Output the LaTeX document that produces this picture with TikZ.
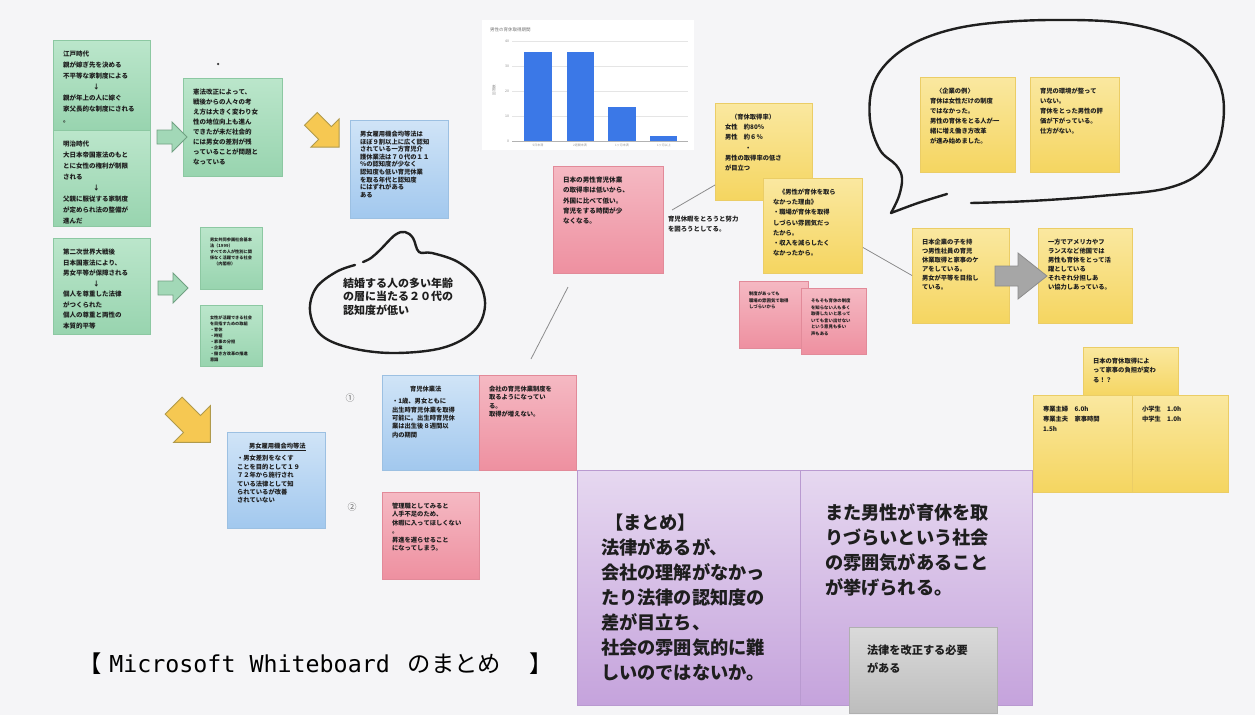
\documentclass[tikz,border=0pt]{standalone}
\usepackage{fontspec}
\setmainfont{Noto Sans CJK JP}
\newfontfamily\monofont{DejaVu Sans Mono}
\XeTeXlinebreaklocale "ja"
\XeTeXlinebreakskip=0pt plus 1pt
\usetikzlibrary{calc}
\definecolor{bg}{HTML}{F5F5F7}
\definecolor{ink}{HTML}{1E1E1E}
\definecolor{gT}{HTML}{BBE6CB}\definecolor{gB}{HTML}{98D4AF}\definecolor{gD}{HTML}{8CC8A2}
\definecolor{bT}{HTML}{D0E4F7}\definecolor{bB}{HTML}{A2C8EE}\definecolor{bD}{HTML}{9CC0E2}
\definecolor{pT}{HTML}{F5B9C3}\definecolor{pB}{HTML}{EE90A0}\definecolor{pD}{HTML}{E28A99}
\definecolor{yT}{HTML}{FAE8A0}\definecolor{yB}{HTML}{F5D560}\definecolor{yD}{HTML}{EBCD66}
\definecolor{uT}{HTML}{E6D8F0}\definecolor{uB}{HTML}{C5A3DC}\definecolor{uD}{HTML}{B99AD0}
\definecolor{rT}{HTML}{DADADA}\definecolor{rB}{HTML}{BDBDBD}\definecolor{rD}{HTML}{B0B0B0}
\definecolor{barblue}{HTML}{3B78E7}
\newcommand\fs[2]{\fontsize{#1}{#2}\selectfont}
% style, name, x, y, w, h, font, text
\newcommand\sticky[8]{%
  \node[#1, minimum width=#5pt, minimum height=#6pt] (#2) at (#3,#4) {};
  \node[txt, text width=\dimexpr#5pt-14pt\relax, font=\bfseries#7] (#2t) at ([shift={(10,11)}]#2.north west) {#8};}
% style, x, y, angle, shaft length, shaft half, head length, head half
\newcommand\blockarrow[8]{%
  \draw[#1, shift={(#2,#3)}, rotate=#4] (-#5,-#6) -- (0,-#6) -- (0,-#8) -- (#7,0) -- (0,#8) -- (0,#6) -- (-#5,#6) -- cycle;}
\begin{document}
\begin{tikzpicture}[x=1pt, y=-1pt,
  every node/.style={inner sep=0pt, outer sep=0pt},
  note/.style={anchor=north west, line width=0.4pt},
  gnote/.style={note, top color=gT, bottom color=gB, draw=gD},
  bnote/.style={note, top color=bT, bottom color=bB, draw=bD},
  pnote/.style={note, top color=pT, bottom color=pB, draw=pD},
  ynote/.style={note, top color=yT, bottom color=yB, draw=yD},
  unote/.style={note, top color=uT, bottom color=uB, draw=uD},
  rnote/.style={note, top color=rT, bottom color=rB, draw=rD},
  txt/.style={anchor=north west, align=left, text=ink},
  bubble/.style={draw=black!88, line width=2.4pt, line cap=round, line join=round},
  conn/.style={draw=black!45, line width=0.8pt},
  garrow/.style={fill=gB!90!white, draw=gD!80!black, line width=0.8pt},
  yarrow/.style={fill=yB!85!orange, draw=yD!75!black, line width=0.8pt},
  rarrow/.style={fill=black!35, draw=black!45, line width=0.8pt}
]
\useasboundingbox (0,0) rectangle (1255,715);
\fill[bg] (0,0) rectangle (1255,715);

% ---------- left column (green) ----------
\sticky{gnote}{g1}{53}{40}{97}{90}{\fs{6.5}{11}}{江戸時代\\親が嫁ぎ先を決める\\不平等な家制度による\\\hspace*{30pt}↓\\親が年上の人に嫁ぐ\\家父長的な制度にされる\\。}
\sticky{gnote}{g2}{53}{130}{97}{96}{\fs{6.5}{11}}{明治時代\\大日本帝国憲法のもと\\とに女性の権利が制限\\される\\\hspace*{30pt}↓\\父親に服従する家制度\\が定められ法の整備が\\進んだ}
\sticky{gnote}{g3}{53}{238}{97}{96}{\fs{6.5}{10.5}}{第二次世界大戦後\\日本国憲法により、\\男女平等が保障される\\\hspace*{30pt}↓\\個人を尊重した法律\\がつくられた\\個人の尊重と両性の\\本質的平等}
\sticky{gnote}{g4}{183}{78}{99}{98}{\fs{6.5}{10}}{憲法改正によって、\\戦後からの人々の考\\え方は大きく変わり女\\性の地位向上も進ん\\できたが未だ社会的\\には男女の差別が残\\っていることが問題と\\なっている}
\sticky{gnote}{s1}{200}{227}{62}{62}{\fs{4.2}{6}}{男女共同参画社会基本\\法（1999）\\すべての人が性別に関\\係なく活躍できる社会\\\quad（内閣府）}
\sticky{gnote}{s2}{200}{305}{62}{61}{\fs{4.2}{6}}{女性が活躍できる社会\\を目指すための取組\\・育休\\・時短\\・家事の分担\\・企業\\・働き方改革の推進\\意識}
\node[circle, fill=black!80, minimum size=2.5pt] (dot) at (218,64) {};

\blockarrow{garrow}{172}{137}{0}{15}{7}{15}{15}
\blockarrow{garrow}{173}{288}{0}{15}{7}{15}{15}
\blockarrow{yarrow}{325}{133}{-45}{20}{9}{20}{20}
\blockarrow{yarrow}{192}{424}{-45}{26}{12}{26}{26}

% ---------- blue notes ----------
\sticky{bnote}{b1}{350}{120}{98}{98}{\fs{6.3}{7.6}}{男女雇用機会均等法は\\ほぼ９割以上に広く認知\\されている一方育児介\\護休業法は７０代の１１\\％の認知度が少なく\\認知度も低い育児休業\\を取る年代と認知度\\にはずれがある\\ある}
\sticky{bnote}{b3}{227}{432}{98}{96}{\fs{6.3}{8.4}}{\hspace*{12pt}\underline{男女雇用機会均等法}\\[4pt]・男女差別をなくす\\ことを目的として１９\\７２年から施行され\\ている法律として知\\られているが改善\\されていない}
\sticky{bnote}{b2}{382}{375}{97}{95}{\fs{6.3}{8.4}}{\hspace*{18pt}育児休業法\\[4pt]・1歳、男女ともに\\出生時育児休業を取得\\可能に。出生時育児休\\業は出生後８週間以\\内の期間}
\sticky{pnote}{p4}{479}{375}{97}{95}{\fs{6.3}{8.4}}{会社の育児休業制度を\\取るようになってい\\る。\\取得が増えない。}
\sticky{pnote}{p5}{382}{492}{97}{87}{\fs{6.3}{8.4}}{管理職としてみると\\人手不足のため、\\休暇に入ってほしくない\\。\\昇進を遅らせること\\になってしまう。}
\node[text=black!60, font=\fs{9}{9}] (n1) at (350,398) {①};
\node[text=black!60, font=\fs{9}{9}] (n2) at (352,507) {②};

% ---------- small bubble ----------
\draw[bubble] plot[smooth, tension=0.6] coordinates {(363,262) (371,258) (380,250) (395,235) (405,232) (413,238) (419,252) (432,253) (458,262) (478,280) (485,306) (474,331) (442,348) (391,353) (347,347) (320,334) (310,311) (316,288) (336,272) (355,265)};
\node[txt, font=\bfseries\fs{11}{13.5}] (bubt) at (343,278) {結婚する人の多い年齢\\の層に当たる２０代の\\認知度が低い};

% ---------- chart ----------
\node[note, fill=white, minimum width=212pt, minimum height=130pt] (chart) at (482,20) {};
\foreach \yy/\lab in {41/40,66/30,91/20,116/10}{
  \draw[black!10, line width=0.4pt] (512,\yy) -- (688,\yy);
  \node[text=black!45, font=\fs{3.5}{4}, anchor=east] at (509,\yy) {\lab};}
\draw[black!30, line width=0.5pt] (512,141) -- (688,141);
\node[text=black!45, font=\fs{3.5}{4}, anchor=east] (c0) at (509,141) {0};
\node[text=black!55, font=\fs{4.5}{5}, anchor=west] (ctitle) at (490,30) {男性の育休取得期間};
\node[text=black!45, font=\fs{3.5}{4}, rotate=90] (cy) at (494,90) {回答数};
\fill[barblue] (524,52) rectangle (552,141);
\fill[barblue] (567,52) rectangle (594,141);
\fill[barblue] (608,107) rectangle (636,141);
\fill[barblue] (650,136) rectangle (677,141);
\foreach \xx/\lab in {538/5日未満,580/2週間未満,622/1ヶ月未満,664/1ヶ月以上}
  \node[text=black!40, font=\fs{3}{3}] at (\xx,145) {\lab};

% ---------- middle ----------
\sticky{pnote}{p1}{553}{166}{110}{107}{\fs{6.6}{10.2}}{日本の男性育児休業\\の取得率は低いから、\\外国に比べて低い。\\育児をする時間が少\\なくなる。}
\node[txt, font=\bfseries\fs{6.4}{10}] (t1) at (668,216) {育児休暇をとろうと努力\\を図ろうとしてる。};
\sticky{ynote}{y1}{715}{103}{97}{97}{\fs{6.3}{10.2}}{\hspace*{6pt}（育休取得率）\\女性\quad 約80％\\男性\quad 約６％\\\hspace*{20pt}・\\男性の取得率の低さ\\が目立つ}
\sticky{ynote}{y2}{763}{178}{99}{95}{\fs{6.3}{10.2}}{\hspace*{6pt}《男性が育休を取ら\\なかった理由》\\・職場が育休を取得\\しづらい雰囲気だっ\\たから。\\・収入を減らしたく\\なかったから。}
\sticky{pnote}{p2}{739}{281}{69}{67}{\fs{4.4}{6.5}}{制度があっても\\職場の雰囲気で取得\\しづらいから}
\sticky{pnote}{p3}{801}{288}{65}{66}{\fs{4.4}{6.5}}{そもそも育休の制度\\を知らない人も多く\\取得したいと思って\\いても言い出せない\\という意見も多い\\声もある}

% ---------- big bubble ----------
\draw[bubble] plot[smooth, tension=0.5] coordinates {(947,194) (918,203) (891,213)};
\draw[bubble] plot[smooth, tension=0.6] coordinates {(891,213) (899,196) (902,178) (896,165) (880,150) (870,120) (873,85) (892,58) (925,38) (975,25) (1050,20) (1130,24) (1190,45) (1220,85) (1222,130) (1205,168) (1168,188) (1100,196) (1030,201) (971,203)};
\sticky{ynote}{y3}{920}{77}{95}{95}{\fs{6.3}{10}}{\hspace*{6pt}〈企業の例〉\\育休は女性だけの制度\\ではなかった。\\男性の育休をとる人が一\\緒に増え働き方改革\\が進み始めました。}
\sticky{ynote}{y4}{1030}{77}{89}{95}{\fs{6.3}{10}}{育児の環境が整って\\いない。\\育休をとった男性の評\\価が下がっている。\\仕方がない。}
\sticky{ynote}{y5}{912}{228}{97}{95}{\fs{6.3}{9}}{日本企業の子を持\\つ男性社員の育児\\休業取得と家事のケ\\アをしている。\\男女が平等を目指し\\ている。}
\sticky{ynote}{y6}{1038}{228}{94}{95}{\fs{6.3}{9}}{一方でアメリカやフ\\ランスなど他国では\\男性も育休をとって活\\躍としている\\それぞれ分担しあ\\い協力しあっている。}
\blockarrow{rarrow}{1018}{276}{0}{23}{10}{29}{23}
\sticky{ynote}{y7}{1083}{347}{95}{50}{\fs{6.3}{9.5}}{日本の育休取得によ\\って家事の負担が変わ\\る！？}
\sticky{ynote}{y8}{1033}{395}{99}{97}{\fs{6.3}{10}}{専業主婦\quad 6.0h\\専業主夫\quad 家事時間\\1.5h}
\sticky{ynote}{y9}{1132}{395}{96}{97}{\fs{6.3}{10}}{小学生\quad 1.0h\\中学生\quad 1.0h}

% ---------- connectors ----------
\draw[conn] ([xshift=4pt,yshift=6pt]t1.north west) -- ([yshift=15pt]y1.south west);
\draw[conn] ([shift={(1,22)}]y2.east) -- (y5.west);
\coordinate (l3a) at (531,359);
\draw[conn] (l3a) -- ([shift={(15,14)}]p1.south west);

% ---------- summary ----------
\node[unote, minimum width=223pt, minimum height=235pt] (u1) at (577,470) {};
\node[unote, minimum width=232pt, minimum height=235pt] (u2) at (800,470) {};
\node[txt, font=\bfseries\fs{18.2}{25}] (u1t) at (601,514) {\hspace*{4pt}【まとめ】\\法律があるが、\\会社の理解がなかっ\\たり法律の認知度の\\差が目立ち、\\社会の雰囲気的に難\\しいのではないか。};
\node[txt, font=\bfseries\fs{18.2}{25}] (u2t) at (825,504) {また男性が育休を取\\りづらいという社会\\の雰囲気があること\\が挙げられる。};
\node[rnote, minimum width=148pt, minimum height=86pt] (r1) at (849,627) {};
\node[txt, font=\bfseries\fs{11.2}{18}] (r1t) at ([shift={(18,18)}]r1.north west) {法律を改正する必要\\がある};

\node[anchor=west, text=black, font=\fs{23.3}{24}] (label) at (78,664) {【\hspace{8pt}{\monofont Microsoft Whiteboard }\hspace{4pt}のまとめ\hspace{28pt}】};
\end{tikzpicture}
\end{document}
